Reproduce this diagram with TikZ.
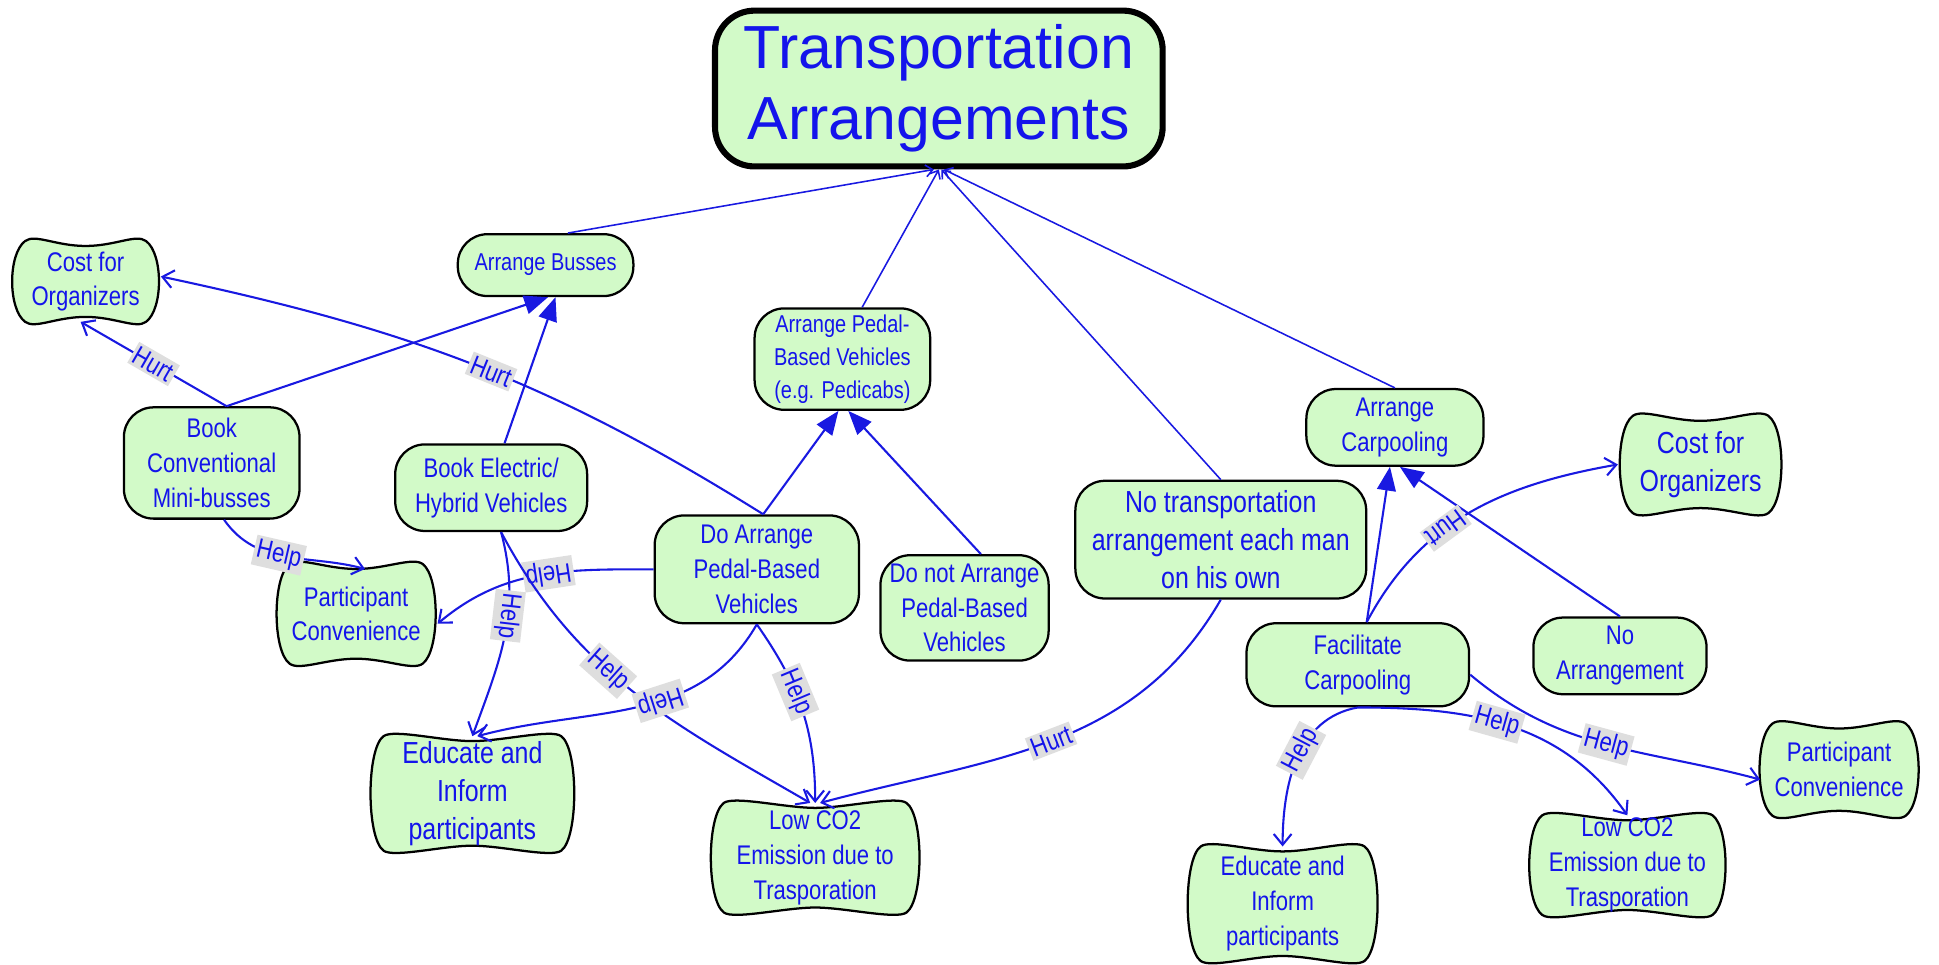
\documentclass[tikz,border=0pt]{standalone}
\usepackage{fontspec}
\setmainfont{Liberation Sans}
\newfontfamily\nodefont{Liberation Sans}[FakeStretch=0.82]
\usepackage{tikz}
\usetikzlibrary{arrows.meta}
\usetikzlibrary{calc}

\definecolor{goalgreen}{RGB}{210,250,200}
\definecolor{txtblue}{RGB}{20,20,235}
\definecolor{lnblue}{RGB}{25,25,225}
\definecolor{lblgray}{RGB}{222,222,222}

\pgfdeclarelayer{back}
\pgfsetlayers{back,main}

\tikzset{
  goal/.style={rectangle, rounded corners=0.6cm, draw=black, line width=1.3pt, fill=goalgreen,
    text=txtblue, align=center, inner sep=1pt, font=\nodefont\fontsize{15.5}{20}\selectfont},
  soft/.style={rectangle, text=txtblue, align=center, inner sep=1pt, font=\nodefont\fontsize{15.5}{20}\selectfont},
  bigtext/.style={font=\nodefont\fontsize{17.5}{22}\selectfont},
  smalltext/.style={font=\nodefont\fontsize{14}{19}\selectfont},
  softline/.style={draw=black, line width=1.3pt, fill=goalgreen},
  link/.style={draw=lnblue, line width=1.2pt},
  contrib/.style={link, -{Straight Barb[length=2.2mm,width=3.6mm]}},
  means/.style={link, -{Triangle[length=4.8mm,width=3.8mm]}},
  decomp/.style={link, line width=0.9pt, -{Straight Barb[length=1.4mm,width=2.4mm]}},
  lbl/.style={sloped, allow upside down, fill=lblgray, text=txtblue, inner sep=1.5pt,
    font=\nodefont\fontsize{15.5}{16}\selectfont},
  lblr/.style={lbl, rotate=180}
}

% wavy outline of a softgoal, drawn behind its node
\newcommand{\softshape}[1]{%
  \begin{pgfonlayer}{back}
  \draw[softline] (#1.north west)
    .. controls +(0.2,0.15) and +(-0.6,0) .. ([yshift=-1mm]#1.north)
    .. controls +(0.6,0) and +(-0.2,0.15) .. (#1.north east)
    .. controls +(0.35,-0.26) and +(0.35,0.26) .. (#1.south east)
    .. controls +(-0.2,-0.15) and +(0.6,0) .. ([yshift=1mm]#1.south)
    .. controls +(-0.6,0) and +(0.2,-0.15) .. (#1.south west)
    .. controls +(-0.35,0.26) and +(-0.35,-0.26) .. (#1.north west) -- cycle;
  \end{pgfonlayer}}

\begin{document}
\begin{tikzpicture}
\useasboundingbox (0,0) rectangle (39.2,19.49);
%%% Top goal
\node[goal, rounded corners=0.8cm, line width=3.5pt, minimum width=9.05cm, minimum height=3.15cm,
  font=\fontsize{35}{41}\selectfont] (title) at (18.98,17.70) {Transportation\\Arrangements};
%%% Goals
% draws goal nodes
\node[goal, smalltext, minimum width=3.55cm, minimum height=1.25cm] (busses) at (11.03,14.13) {Arrange Busses};
\node[goal, smalltext, minimum width=3.55cm, minimum height=2.05cm] (pedal) at (17.03,12.23) {Arrange Pedal-\\Based Vehicles\\(e.g. Pedicabs)};
\node[goal, minimum width=3.58cm, minimum height=1.55cm] (carpool) at (28.2,10.85) {Arrange\\Carpooling};
\node[goal, minimum width=3.55cm, minimum height=2.25cm] (bookconv) at (4.28,10.13) {Book\\Conventional\\Mini-busses};
\node[goal, minimum width=3.88cm, minimum height=1.75cm] (bookelec) at (9.93,9.63) {Book Electric/\\Hybrid Vehicles};
\node[goal, minimum width=4.13cm, minimum height=2.18cm] (doped) at (15.3,7.98) {Do Arrange\\Pedal-Based\\Vehicles};
\node[goal, minimum width=3.4cm, minimum height=2.13cm] (dontped) at (19.5,7.2) {Do not Arrange\\Pedal-Based\\Vehicles};
\node[goal, bigtext, minimum width=5.88cm, minimum height=2.38cm] (notrans) at (24.68,8.58) {No transportation\\arrangement each man\\on his own};
\node[goal, minimum width=4.5cm, minimum height=1.68cm] (facil) at (27.45,6.05) {Facilitate\\Carpooling};
\node[goal, minimum width=3.5cm, minimum height=1.55cm] (noarr) at (32.75,6.23) {No\\Arrangement};
%%% Softgoals
% draws softgoal nodes
\node[soft, minimum width=2.43cm, minimum height=1.62cm] (costL) at (1.73,13.80) {Cost for\\Organizers};
\node[soft, bigtext, minimum width=2.73cm, minimum height=1.95cm] (costR) at (34.38,10.10) {Cost for\\Organizers};
\node[soft, minimum width=2.48cm, minimum height=2.0cm] (partL) at (7.2,7.08) {Participant\\Convenience};
\node[soft, minimum width=2.6cm, minimum height=1.85cm] (partR) at (37.18,3.93) {Participant\\Convenience};
\node[soft, bigtext, minimum width=3.58cm, minimum height=2.3cm] (eduL) at (9.55,3.45) {Educate and\\Inform\\participants};
\node[soft, minimum width=3.3cm, minimum height=2.3cm] (eduR) at (25.93,1.22) {Educate and\\Inform\\participants};
\node[soft, minimum width=3.68cm, minimum height=2.2cm] (lowL) at (16.48,2.15) {Low CO2\\Emission due to\\Trasporation};
\node[soft, minimum width=3.43cm, minimum height=2.0cm] (lowR) at (32.9,2.0) {Low CO2\\Emission due to\\Trasporation};
% outlines of softgoals
\softshape{costL}
\softshape{costR}
\softshape{partL}
\softshape{partR}
\softshape{eduL}
\softshape{eduR}
\softshape{lowL}
\softshape{lowR}
%%% Decomposition links
\draw[decomp] ([xshift=4.5mm]busses.north) -- ([xshift=-1mm]title.south);
\draw[decomp] ([xshift=4mm]pedal.north) -- (title.south);
\draw[decomp] (notrans.north) -- ([xshift=0.5mm]title.south);
\draw[decomp] (carpool.north) -- ([xshift=1mm]title.south);
%%% Means-end links
\draw[means] ([xshift=3mm]bookconv.north) -- ([xshift=0.5mm]busses.south);
\draw[means] ([xshift=2.7mm]bookelec.north) -- ([xshift=2mm]busses.south);
\draw[means] ([xshift=1.3mm]doped.north) -- ([xshift=-0.8mm]pedal.south);
\draw[means] ([xshift=3.3mm]dontped.north) -- ([xshift=1.2mm]pedal.south);
\draw[means] ([xshift=1.8mm]facil.north) -- ([xshift=-1mm]carpool.south);
\draw[means] (noarr.north) -- ([xshift=1mm]carpool.south);
%%% Contribution links
% left part
\draw[contrib] ([xshift=3mm]bookconv.north) -- node[lblr, pos=0.5] {Hurt} ([xshift=-1mm]costL.south);
\draw[contrib] ([xshift=1.3mm]doped.north) to[out=148, in=-12] node[lblr, pos=0.47] {Hurt} ([xshift=3mm,yshift=1mm]costL.east);
\draw[contrib] ([xshift=2.5mm]bookconv.south) to[out=-55, in=165] node[lbl, pos=0.45] {Help} ([xshift=1.8mm,yshift=-1mm]partL.north);
\draw[contrib] (doped.west) to[out=180, in=40] node[lbl, pos=0.45] {Help} ([xshift=3mm,yshift=-2mm]partL.east);
\draw[contrib] ([xshift=2mm]bookelec.south) to[out=-75, in=70] node[lbl, pos=0.4] {Help} (eduL.north);
\draw[contrib] ([xshift=2mm]bookelec.south) to[out=-62, in=150] node[lbl, pos=0.42] {Help} ([xshift=-1mm]lowL.north);
\draw[contrib] (doped.south) to[out=-120, in=15] node[lbl, pos=0.42] {Help} ([xshift=1mm]eduL.north);
\draw[contrib] (doped.south) to[out=-55, in=90] node[lbl, pos=0.4] {Help} (lowL.north);
\draw[contrib] (notrans.south) to[out=-120, in=15] node[lblr, pos=0.5] {Hurt} ([xshift=1mm]lowL.north);
% right part
\draw[contrib] ([xshift=1.8mm]facil.north) to[out=62, in=190] node[lblr, pos=0.4] {Hurt} ([xshift=-3mm]costR.west);
\draw[contrib] (facil.south) to[out=190, in=90] node[lblr, pos=0.45] {Help} (eduR.north);
\draw[contrib] (facil.south) to[out=0, in=125] node[lbl, pos=0.45] {Help} (lowR.north);
\draw[contrib] ([yshift=-2mm]facil.east) to[out=-40, in=165] node[lbl, pos=0.5] {Help} ([xshift=-2.5mm,yshift=-2mm]partR.west);
\end{tikzpicture}
\end{document}
